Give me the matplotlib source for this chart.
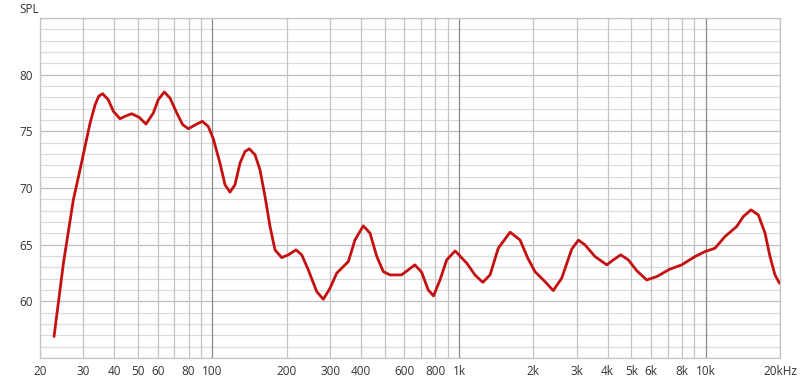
import numpy as np
import matplotlib
matplotlib.use('Agg')
import matplotlib.pyplot as plt

# frequency response (Hz, dB SPL)
freq = [22.8, 24.9, 27.3, 29.1, 30.4, 31.9, 33.4, 34.6, 35.9, 37.8, 39.7, 42.2, 44.5, 47.1,
        50.5, 53.8, 57.6, 60.3, 63.8, 67.3, 71.7, 75.8, 79.9, 86.4, 91.0, 96.2, 100.8,
        107.3, 112.5, 117.8, 123.4, 129.4, 135.6, 141.1, 148.8, 155.9, 163.4, 171.2,
        179.4, 190.9, 203, 218.2, 230.2, 244.8, 264.8, 281.6, 299.8, 319, 339.4, 355.6,
        378.4, 409, 435.4, 464, 493, 524.8, 584, 622, 662, 705, 750, 788, 836.9, 891,
        964, 1074, 1160, 1247, 1335, 1442, 1610, 1766, 1900, 2031, 2230, 2409, 2606,
        2862, 3046, 3240, 3557, 3972, 4220, 4522, 4853, 5248, 5763, 6327, 7140, 7988,
        9046, 9932, 10906, 11968, 13348, 14200, 15254, 16332, 17392, 18216, 19086, 19900]
spl = [56.9, 63.4, 68.96, 71.67, 73.6, 75.7, 77.3, 78.1, 78.32, 77.79, 76.76, 76.11, 76.35,
       76.55, 76.23, 75.64, 76.62, 77.79, 78.47, 77.94, 76.62, 75.58, 75.23, 75.64, 75.88,
       75.43, 74.35, 72.2, 70.28, 69.64, 70.28, 72.2, 73.22, 73.46, 72.93, 71.61, 69.25,
       66.6, 64.54, 63.86, 64.1, 64.54, 64.1, 62.77, 60.86, 60.18, 61.16, 62.48, 63.07,
       63.51, 65.42, 66.66, 66.02, 63.95, 62.62, 62.33, 62.33, 62.77, 63.22, 62.57, 61.0,
       60.48, 61.89, 63.66, 64.45, 63.37, 62.33, 61.68, 62.33, 64.69, 66.1, 65.42, 63.8,
       62.62, 61.74, 60.95, 62.04, 64.6, 65.4, 64.98, 63.95, 63.22, 63.66, 64.1, 63.66,
       62.71, 61.89, 62.18, 62.83, 63.22, 63.95, 64.39, 64.69, 65.72, 66.6, 67.48, 68.07,
       67.63, 66.02, 63.95, 62.33, 61.6]

x_ticks = [20, 30, 40, 50, 60, 80, 100, 200, 300, 400, 600, 800, 1000, 2000, 3000,
           4000, 5000, 6000, 8000, 10000, 20000]
x_labels = ["20", "30", "40", "50", "60", "80", "100", "200", "300", "400", "600", "800",
            "1k", "2k", "3k", "4k", "5k", "6k", "8k", "10k", "20kHz"]
y_ticks = [60, 65, 70, 75, 80]

plt.rcParams['font.family'] = ['Open Sans', 'DejaVu Sans']

fig = plt.figure(figsize=(8, 3.82), dpi=100)
ax = fig.add_axes([0.05, 0.0628, 0.925, 0.8901])

ax.set_xscale('log')
ax.set_xlim(20, 20000)
ax.set_ylim(55, 85)

# grid
for d in range(55, 86):
    c = '#bdbdbd' if d % 5 == 0 else '#dcdcdc'
    ax.axhline(d, color=c, lw=0.9, zorder=1)
for dec in [10, 100, 1000, 10000]:
    for m in range(1, 10):
        f = dec * m
        if f < 20 or f > 20000:
            continue
        c = '#8a8a8a' if m == 1 and dec > 10 else '#c4c4c4'
        ax.axvline(f, color=c, lw=0.9, zorder=1)
ax.axvline(20000, color='#c4c4c4', lw=0.9, zorder=1)

ax.plot(freq, spl, color='#c41010', lw=2.0, zorder=3,
        solid_joinstyle='round', solid_capstyle='round')

ax.set_xticks(x_ticks)
ax.set_xticklabels(x_labels)
ax.xaxis.set_minor_locator(matplotlib.ticker.NullLocator())
ax.set_yticks(y_ticks)
ax.tick_params(length=0, labelsize=8.5, colors='#333333', pad=5)
for s in ax.spines.values():
    s.set_color('#c4c4c4')
    s.set_linewidth(0.9)

fig.text(0.024, 0.975, 'SPL', fontsize=8.5, color='#333333', va='center')

plt.savefig('out.png')
